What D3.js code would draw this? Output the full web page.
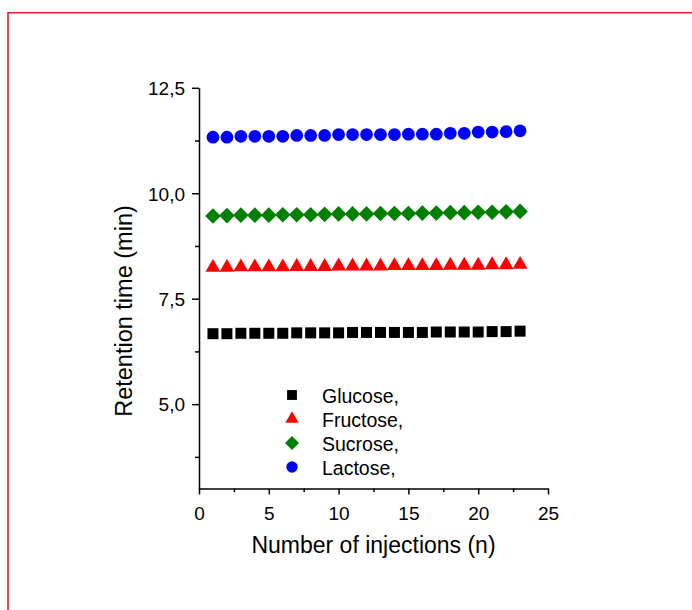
<!DOCTYPE html>
<html>
<head>
<meta charset="utf-8">
<script src="https://cdn.jsdelivr.net/npm/d3@7"></script>
<style>
    body { margin: 0; background: #fff; }
    svg text { font-family: "Liberation Sans", Arial, sans-serif; fill: #000; }
    .axis path, .axis line { stroke: #000; stroke-width: 1.5px; }
</style>
</head>
<body>
<svg id="chart" width="692" height="610"></svg>
<script>
"use strict";
var injections = d3.range(1, 24);
var seriesNames = ["Glucose,", "Fructose,", "Sucrose,", "Lactose,"];
var glucose  = [6.67, 6.67, 6.68, 6.68, 6.68, 6.68, 6.69, 6.69, 6.69, 6.69, 6.70, 6.70, 6.70, 6.70, 6.70, 6.70, 6.71, 6.71, 6.71, 6.71, 6.72, 6.72, 6.73];
var fructose = [8.24, 8.24, 8.25, 8.25, 8.25, 8.25, 8.26, 8.26, 8.26, 8.27, 8.27, 8.27, 8.27, 8.28, 8.28, 8.28, 8.28, 8.29, 8.29, 8.29, 8.30, 8.30, 8.31];
var sucrose  = [9.46, 9.47, 9.48, 9.48, 9.48, 9.49, 9.49, 9.49, 9.50, 9.51, 9.51, 9.51, 9.52, 9.52, 9.52, 9.53, 9.53, 9.54, 9.54, 9.55, 9.55, 9.56, 9.57];
var lactose  = [11.33, 11.33, 11.35, 11.35, 11.35, 11.35, 11.37, 11.37, 11.37, 11.39, 11.39, 11.39, 11.39, 11.39, 11.40, 11.40, 11.40, 11.42, 11.42, 11.45, 11.45, 11.46, 11.48];
var xMajor = [0, 5, 10, 15, 20, 25];
var xMinor = [2.5, 7.5, 12.5, 17.5, 22.5];
var yMajor = [5.0, 7.5, 10.0, 12.5];
var yMinor = [3.75, 6.25, 8.75, 11.25];

var svg = d3.select("#chart");

// red frame around the figure
svg.append("rect")
    .attr("x", 8).attr("y", 12.7)
    .attr("width", 720).attr("height", 640)
    .attr("fill", "none")
    .attr("stroke", "#e8203a")
    .attr("stroke-width", 1.6);

var x = d3.scaleLinear().domain([0, 25]).range([199, 548]);
var y = d3.scaleLinear().domain([3, 12.5]).range([488.5, 87.8]);
var comma = function (d) { return d3.format(".1f")(d).replace(".", ","); };

var xAxis = svg.append("g").attr("class", "axis").attr("transform", "translate(0," + y(3) + ")");
xAxis.call(d3.axisBottom(x).tickValues(xMajor).tickSize(6).tickSizeOuter(0).tickPadding(12).tickFormat(d3.format("d")));
xAxis.append("g").call(d3.axisBottom(x).tickValues(xMinor).tickSize(3.5).tickFormat(""))
    .select(".domain").remove();
xAxis.selectAll("text").style("font-size", "19px");

var yAxis = svg.append("g").attr("class", "axis").attr("transform", "translate(" + x(0) + ",0)");
yAxis.call(d3.axisLeft(y).tickValues(yMajor).tickSize(7).tickSizeOuter(0).tickPadding(7).tickFormat(comma));
yAxis.append("g").call(d3.axisLeft(y).tickValues(yMinor).tickSize(4).tickFormat(""))
    .select(".domain").remove();
yAxis.selectAll("text").style("font-size", "19px").attr("dy", "0.36em");

svg.append("text")
    .attr("x", (x(0) + x(25)) / 2).attr("y", 553)
    .attr("text-anchor", "middle")
    .style("font-size", "23px")
    .text("Number of injections (n)");

svg.append("text")
    .attr("transform", "translate(132,311) rotate(-90)")
    .attr("text-anchor", "middle")
    .style("font-size", "23.5px")
    .text("Retention time (min)");

var series = [
    { name: seriesNames[0], values: glucose,  color: "#000000", shape: d3.symbolSquare,   size: 121, rot: 0 },
    { name: seriesNames[1], values: fructose, color: "#ff0000", shape: d3.symbolTriangle, size: 96,  rot: 0 },
    { name: seriesNames[2], values: sucrose,  color: "#008000", shape: d3.symbolSquare,   size: 123, rot: 45 },
    { name: seriesNames[3], values: lactose,  color: "#0000ff", shape: d3.symbolCircle,   size: 127, rot: 0 }
];

series.forEach(function (s) {
    svg.append("g").selectAll("path")
        .data(s.values)
        .enter().append("path")
        .attr("d", d3.symbol().type(s.shape).size(s.size))
        .attr("fill", s.color)
        .attr("transform", function (d, i) {
            return "translate(" + x(injections[i]) + "," + y(d) + ") rotate(" + s.rot + ")";
        });
});

// legend
var legend = svg.append("g").attr("transform", "translate(292,395)");
var rows = legend.selectAll("g").data(series).enter().append("g")
    .attr("transform", function (d, i) { return "translate(0," + (i * 24) + ")"; });
rows.append("path")
    .attr("d", function (d) { return d3.symbol().type(d.shape).size(d.size * 0.8)(); })
    .attr("fill", function (d) { return d.color; })
    .attr("transform", function (d) { return "rotate(" + d.rot + ")"; });
rows.append("text")
    .attr("x", 30).attr("y", 7.5)
    .style("font-size", "19.5px")
    .text(function (d) { return d.name; });
</script>
</body>
</html>
